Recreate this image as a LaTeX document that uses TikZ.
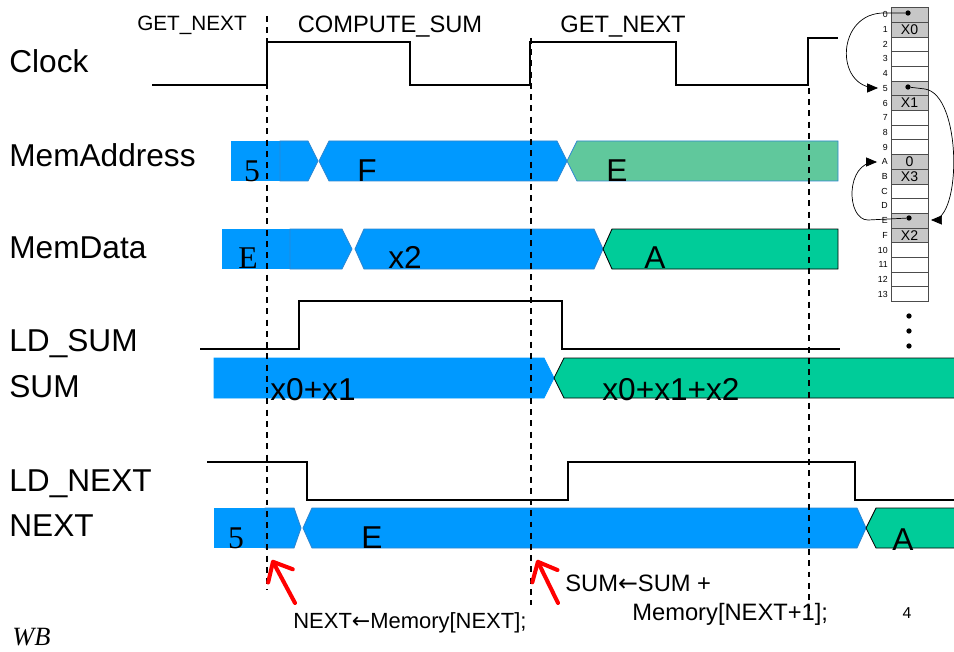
\documentclass[tikz,border=0pt]{standalone}
\usepackage{fontspec}
\setmainfont{Liberation Sans}
\newfontfamily\timesfont{Liberation Serif}
\newfontfamily\arrowfont{DejaVu Sans}
\usetikzlibrary{arrows,arrows.meta,positioning}
\definecolor{busblue}{HTML}{0099FF}
\definecolor{busedge}{HTML}{2E86D0}
\definecolor{palegreen}{HTML}{60C89C}
\definecolor{busgreen}{HTML}{00CC99}
\newcommand{\getsarrow}{{\arrowfont ←}}

\begin{document}
\begin{tikzpicture}[x=0.02cm,y=-0.02cm,
	sig/.style={line width=1.4pt},
	cut/.style={line width=0.6pt,dash pattern=on 3.4pt off 3pt},
	lbl/.style={anchor=base west,inner sep=0pt,font=\fontsize{18}{20}\selectfont},
	val/.style={anchor=base,inner sep=0pt,font=\fontsize{18}{20}\selectfont},
	tval/.style={val,font=\fontsize{18}{20}\selectfont\timesfont},
	state/.style={anchor=base,inner sep=0pt,font=\fontsize{13.5}{15}\selectfont},
	note/.style={anchor=base west,inner sep=0pt,font=\fontsize{13.5}{15}\selectfont},
	blueseg/.style={fill=busblue,draw=busedge,line width=0.5pt},
	greenseg/.style={fill=busgreen,draw=black,line width=0.5pt},
	redarr/.style={-{Straight Barb[round,length=3.2mm,width=5.6mm]},red,line width=2.3pt,line cap=round},
	cell/.style={draw=black!70,line width=0.4pt},
	used/.style={cell,fill=black!22},
	ptr/.style={line width=0.4pt},
	dotn/.style={circle,fill=black,inner sep=0pt,minimum size=3pt}]
	\useasboundingbox (0,0) rectangle (954,652);

	% signal names
	\node[lbl] (clock) at (9,73) {Clock};
	\node[lbl] (memaddr) at (9,167) {MemAddress};
	\node[lbl] (memdata) at (9,258) {MemData};
	\node[lbl] (ldsum) at (9,351) {LD\_SUM};
	\node[lbl] (sum) at (9,397) {SUM};
	\node[lbl] (ldnext) at (9,491) {LD\_NEXT};
	\node[lbl] (next) at (9,536) {NEXT};

	% states
	\node[state,font=\fontsize{11.8}{14}\selectfont] (st1) at (192,31) {GET\_NEXT};
	\node[state] (st2) at (390,33) {COMPUTE\_SUM};
	\node[state] (st3) at (623,33) {GET\_NEXT};

	% clock and load lines
	\draw[sig] (152,85) -- (267,85) -- (267,42) -- (410,42) -- (410,85) -- (530,85)
		-- (530,42) -- (676,42) -- (676,85) -- (808,85) -- (808,38) -- (838,38);
	\draw[sig] (200,349) -- (299,349) -- (299,301) -- (562,301) -- (562,349) -- (840,349);
	\draw[sig] (207,462) -- (307,462) -- (307,500) -- (568,500) -- (568,462)
		-- (855,462) -- (855,500) -- (954,500);

	% MemAddress
	\fill[busblue] (231,141) rectangle (280,181);
	\draw[blueseg] (280,141) -- (308,141) -- (318,161) -- (308,181) -- (280,181) -- cycle;
	\draw[blueseg] (319,161) -- (329,141) -- (557,141) -- (567,161) -- (557,181) -- (329,181) -- cycle;
	\draw[fill=palegreen,draw=busedge,line width=0.5pt] (567,161) -- (577,141) -- (838,141)
		-- (838,181) -- (577,181) -- cycle;
	\node[tval] (a5) at (252,181) {5};
	\node[val] (aF) at (367,181) {F};
	\node[val] (aE) at (617,181) {E};

	% MemData
	\fill[busblue] (222,229) rectangle (290,269);
	\draw[blueseg] (290,229) -- (342,229) -- (352,249) -- (342,269) -- (290,269) -- cycle;
	\draw[blueseg] (355,249) -- (364,229) -- (594,229) -- (603,249) -- (594,269) -- (364,269) -- cycle;
	\draw[greenseg] (603,249) -- (612,229) -- (838,229) -- (838,269) -- (612,269) -- cycle;
	\node[tval] (dE) at (248,268) {E};
	\node[val] (dx2) at (405,268) {x2};
	\node[val] (dA) at (655,268) {A};

	% SUM
	\draw[blueseg,draw=busblue] (214,358) -- (544,358) -- (554,378) -- (544,398) -- (214,398) -- cycle;
	\draw[greenseg] (954,358) -- (564,358) -- (554,378) -- (564,398) -- (954,398);
	\node[val] (s1) at (313,400) {x0+x1};
	\node[val] (s2) at (671,400) {x0+x1+x2};

	% NEXT
	\fill[busblue] (214,508) rectangle (265,548);
	\draw[blueseg] (265,508) -- (294,508) -- (301,528) -- (294,548) -- (265,548) -- cycle;
	\draw[blueseg] (303,528) -- (312,508) -- (857,508) -- (866,528) -- (857,548) -- (312,548) -- cycle;
	\draw[greenseg] (954,508) -- (876,508) -- (866,528) -- (876,548) -- (954,548);
	\node[tval] (n5) at (236,548) {5};
	\node[val] (nE) at (372,548) {E};
	\node[val] (nA) at (903,550) {A};

	% clock edges
	\draw[cut] (267,16) -- (267,590);
	\draw[cut] (531,38) -- (531,605);
	\draw[cut] (809,88) -- (809,612);

	% register transfers
	\coordinate (e1) at (272,560);
	\coordinate (f1) at (295,603);
	\coordinate (e2) at (537,560);
	\coordinate (f2) at (558,603);
	\draw[redarr] (f1) -- (e1);
	\draw[redarr] (f2) -- (e2);
	\node[note] (rt1) at (565,591) {SUM\getsarrow SUM +};
	\node[note] (rt2) at (632,620) {Memory[NEXT+1];};
	\node[note,font=\fontsize{12.5}{14}\selectfont] (rt3) at (293,628) {NEXT\getsarrow Memory[NEXT];};
	\node[font=\fontsize{9}{10}\selectfont] (page) at (907,613) {4};
	\node[anchor=base west,inner sep=0pt,font=\fontsize{15}{17}\selectfont\timesfont\itshape] (wb) at (12,645) {WB};

	% memory
	\foreach \lab [count=\i from 0] in {0,1,2,3,4,5,6,7,8,9,A,B,C,D,E,F,10,11,12,13} {
		\draw[cell] (891,7.5+14.7*\i) rectangle (928,22.2+14.7*\i);
		\node[anchor=east,inner sep=0pt,font=\fontsize{5}{6}\selectfont] (r\i) at (888,14.85+14.7*\i) {\lab};
	}
	\foreach \i in {0,1,5,6,10,11,14,15}
		\draw[used] (891,7.5+14.7*\i) rectangle (928,22.2+14.7*\i);
	\node[font=\fontsize{8}{9}\selectfont] (m1) at (909.5,29.55) {X0};
	\node[font=\fontsize{8}{9}\selectfont] (m6) at (909.5,103.05) {X1};
	\node[font=\fontsize{8}{9}\selectfont] (m10) at (909.5,161.85) {0};
	\node[font=\fontsize{8}{9}\selectfont] (m11) at (909.5,176.55) {X3};
	\node[font=\fontsize{8}{9}\selectfont] (m15) at (909.5,235.35) {X2};
	\node[dotn] (p0) at (908,13) {};
	\node[dotn] (p5) at (908,87) {};
	\node[dotn] (p14) at (909,218) {};
	\coordinate (q5) at (878,88);
	\coordinate (q14) at (931,220);
	\coordinate (q10) at (877,162);
	\draw[ptr,-triangle 45] (p0) -- (885,13) .. controls (836,12) and (834,88) .. (q5);
	\draw[ptr,-triangle 45] (p5) -- (925,89) .. controls (962,95) and (962,220) .. (q14);
	\draw[ptr,-triangle 45] (p14) -- (868,220) .. controls (846,220) and (845,162) .. (q10);
	\foreach \k in {0,1,2}
		\node[dotn] (dots\k) at (909,316+15*\k) {};
\end{tikzpicture}
\end{document}
